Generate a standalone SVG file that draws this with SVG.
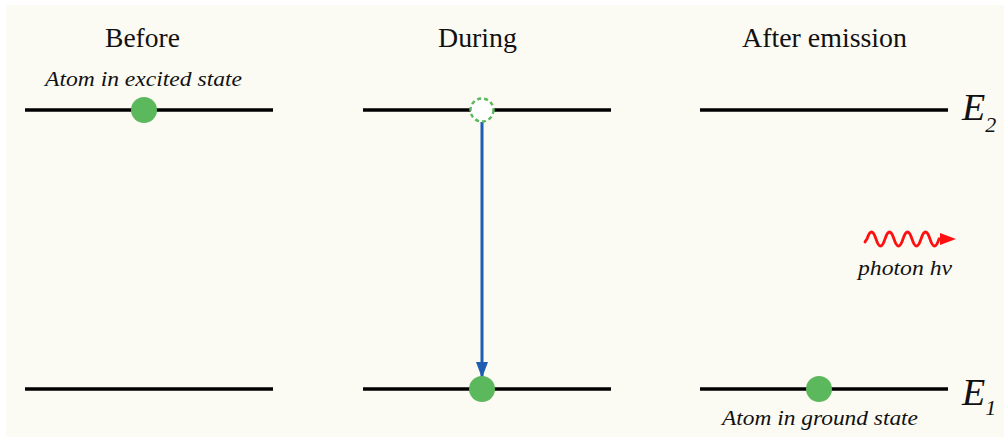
<svg xmlns="http://www.w3.org/2000/svg" width="1004" height="437" viewBox="0 0 1004 437">
<style>
.hdr{font-family:"Liberation Serif","Times New Roman",serif;font-size:27px;fill:#111;text-anchor:middle}
.lbl{font-family:"Liberation Serif","Times New Roman",serif;font-size:20px;font-style:italic;fill:#111;text-anchor:middle}
.en{font-family:"Liberation Serif","Times New Roman",serif;font-style:italic;fill:#111}
.lvl{stroke:#000;stroke-width:3.5;fill:none}
.atom{fill:#5cb85c}
</style>
<defs>
<marker id="blueHead" markerWidth="16" markerHeight="12" refX="16" refY="6" orient="auto" markerUnits="userSpaceOnUse" viewBox="0 0 16 12">
<polygon points="0,0 16,6 0,12" fill="#1f5db0"/>
</marker>
</defs>
<rect x="6" y="5" width="998" height="432" fill="#fbfaf3"/>
<g id="headers">
<text class="hdr" x="142.5" y="47" textLength="75" lengthAdjust="spacingAndGlyphs">Before</text>
<text class="hdr" x="477.5" y="47" textLength="79" lengthAdjust="spacingAndGlyphs">During</text>
<text class="hdr" x="824.5" y="47" textLength="165" lengthAdjust="spacingAndGlyphs">After emission</text>
</g>
<g id="levels">
<line class="lvl" x1="25" y1="110" x2="273" y2="110"/>
<line class="lvl" x1="363" y1="110" x2="611" y2="110"/>
<line class="lvl" x1="700" y1="110" x2="948" y2="110"/>
<line class="lvl" x1="25" y1="389" x2="273" y2="389"/>
<line class="lvl" x1="363" y1="389" x2="611" y2="389"/>
<line class="lvl" x1="700" y1="389" x2="948" y2="389"/>
</g>
<g id="connectors">
<line x1="482" y1="122" x2="482" y2="378" stroke="#1f5db0" stroke-width="3" marker-end="url(#blueHead)"/>
</g>
<g id="atom-before">
<circle class="atom" cx="144" cy="110" r="13"/>
<text class="lbl" x="143.5" y="86" textLength="197" lengthAdjust="spacingAndGlyphs">Atom in excited state</text>
</g>
<g id="atom-during-empty">
<circle cx="482" cy="110" r="11.5" fill="#ffffff" stroke="#5cb85c" stroke-width="2.5" stroke-dasharray="4 3"/>
</g>
<g id="atom-during">
<circle class="atom" cx="482" cy="389" r="13"/>
</g>
<g id="atom-after">
<circle class="atom" cx="819" cy="389" r="13"/>
<text class="lbl" x="820" y="425" textLength="196" lengthAdjust="spacingAndGlyphs">Atom in ground state</text>
</g>
<g id="photon">
<path d="M865,242 Q866,240 867,239 Q871.5,225 876,239 Q880.5,253 885,239 Q889.5,225 894,239 Q898.5,253 903,239 Q907.5,225 912,239 Q916.5,253 921,239 Q925.5,225 930,239 Q934.5,253 939,239 L943,239" fill="none" stroke="#ff1010" stroke-width="2.8" stroke-linecap="round"/>
<polygon points="940,233 956,239 940,245" fill="#ff1010"/>
<text class="lbl" x="905" y="275" textLength="94" lengthAdjust="spacingAndGlyphs">photon hν</text>
</g>
<g id="E2">
<text class="en" x="962" y="120" font-size="38">E<tspan font-size="22" dy="12">2</tspan></text>
</g>
<g id="E1">
<text class="en" x="962" y="405" font-size="38">E<tspan font-size="22" dy="10">1</tspan></text>
</g>
</svg>
